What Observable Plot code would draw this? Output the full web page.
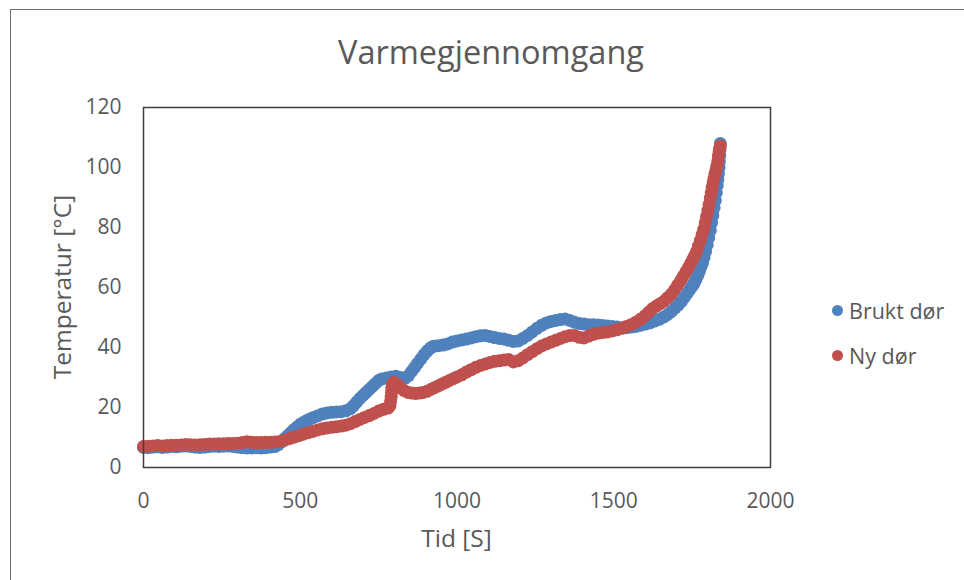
<!DOCTYPE html>
<html>
<head>
<meta charset="utf-8">
<script src="https://cdn.jsdelivr.net/npm/d3@7"></script>
<script src="https://cdn.jsdelivr.net/npm/@observablehq/plot@0.6"></script>
<style>
  html, body { margin: 0; padding: 0; background: #fff; }
  body { width: 964px; height: 580px; overflow: hidden; position: relative; font-family: "Open Sans", sans-serif; color: #595959; }
  #border { position: absolute; left: 10px; top: 9px; width: 2000px; height: 2000px; border: 1.5px solid #6e6e6e; box-sizing: border-box; }
  #chart { position: absolute; left: 0; top: 0; }
  .txt { position: absolute; white-space: nowrap; color: #595959; line-height: 1; }
  #title { left: 0; width: 982px; text-align: center; top: 36px; font-size: 32.5px; }
  #xlabel { left: 143px; width: 627px; text-align: center; top: 526px; font-size: 24.5px; }
  #ylabel { left: 62px; top: 287px; font-size: 24.5px; transform: translate(-50%, -50%) rotate(-90deg); }
  .leg { position: absolute; left: 832px; font-size: 21.5px; display: flex; align-items: center; color: #595959; white-space: nowrap; }
  .leg span.sw { display: inline-block; width: 11px; height: 11px; border-radius: 50%; margin-right: 6px; }
</style>
</head>
<body>
<div id="border"></div>
<div id="chart"></div>
<div id="title" class="txt">Varmegjennomgang</div>
<div id="xlabel" class="txt">Tid [S]</div>
<div id="ylabel" class="txt">Temperatur [°C]</div>
<div id="legend"></div>
<script>
// Series names and colours
const seriesNames = ["Brukt dør", "Ny dør"];
const seriesColors = ["#4F81BD", "#C0504D"];

// Axis ticks
const xTicks = [0, 500, 1000, 1500, 2000];
const yTicks = [0, 20, 40, 60, 80, 100, 120];

// Brukt dør (used door): time [s] and temperature [°C]
const bruktTid = [0,15,30,45,60,75,90,105,120,135,150,165,180,195,210,225,240,255,270,285,300,315,330,345,360,375,390,405,420,430,440,450,460,470,480,490,500,510,520,530,540,555,570,585,600,615,630,645,660,670,680,690,700,710,720,730,740,750,760,775,790,805,820,835,845,855,865,875,885,895,905,915,925,940,955,970,985,1000,1015,1030,1045,1060,1075,1090,1105,1120,1135,1150,1165,1180,1195,1210,1225,1240,1255,1270,1285,1300,1315,1330,1345,1360,1375,1390,1405,1420,1435,1450,1465,1480,1495,1510,1525,1540,1555,1570,1585,1600,1615,1630,1645,1660,1672,1684,1696,1706,1716,1726,1734,1742,1750,1756,1762,1768,1773,1778,1783,1788,1793,1798,1803,1808,1812,1816,1820,1824,1827,1830,1832,1834,1836,1837,1838,1839,1840];
const bruktTemp = [6.7,6.6,6.8,6.9,6.7,6.8,7.0,6.9,7.1,7.2,7.0,6.8,6.7,6.8,7.0,7.1,7.0,7.1,7.2,7.0,6.8,6.6,6.5,6.5,6.6,6.5,6.6,6.8,7.0,7.6,8.5,9.6,10.6,11.6,12.6,13.5,14.4,15.0,15.6,16.1,16.6,17.2,17.8,18.2,18.4,18.5,18.6,18.9,19.6,20.6,21.8,23.0,24.0,25.0,26.0,27.0,28.0,29.0,29.5,29.8,30.2,30.4,30.0,29.8,30.6,32.0,33.4,34.8,36.2,37.6,38.8,39.8,40.4,40.6,40.8,41.2,41.8,42.2,42.5,42.8,43.2,43.6,43.9,44.0,43.7,43.3,43.0,42.8,42.4,42.0,42.2,43.0,44.0,45.2,46.4,47.4,48.2,48.7,49.0,49.3,49.5,49.0,48.4,48.0,47.8,47.6,47.6,47.5,47.3,47.2,47.0,46.8,46.6,46.6,46.8,47.0,47.4,47.8,48.2,48.8,49.4,50.2,51.0,52.0,53.2,54.2,55.4,56.8,58.0,59.2,60.4,61.4,62.6,64.0,65.4,66.8,68.2,70.0,72.0,74.2,76.6,79.0,81.5,84.0,86.5,89.0,91.5,94.0,96.0,98.0,100.0,102.0,104.0,106.0,108.0];

// Ny dør (new door): time [s] and temperature [°C]
const nyTid = [0,15,30,45,60,75,90,105,120,135,150,165,180,195,210,225,240,255,270,285,300,315,330,345,360,375,390,405,420,435,450,465,480,495,510,525,540,555,570,585,600,615,630,645,660,675,690,705,720,735,750,765,780,786,788,790,791,792,794,798,806,814,822,832,844,856,868,880,892,904,916,928,940,952,964,976,988,1000,1015,1030,1045,1060,1075,1090,1105,1120,1135,1150,1165,1180,1195,1210,1225,1240,1255,1270,1285,1300,1315,1330,1345,1360,1375,1390,1405,1420,1435,1450,1465,1480,1495,1510,1525,1540,1555,1570,1585,1600,1612,1624,1636,1648,1660,1672,1684,1694,1704,1714,1722,1730,1738,1745,1752,1758,1764,1770,1776,1782,1787,1792,1796,1800,1804,1808,1811,1814,1817,1820,1823,1826,1829,1832,1834,1836,1838,1840];
const nyTemp = [7.0,7.1,7.2,7.3,7.2,7.3,7.4,7.4,7.5,7.7,7.6,7.5,7.6,7.7,7.8,7.8,7.9,7.9,8.0,8.0,8.1,8.3,8.6,8.4,8.3,8.3,8.4,8.4,8.5,8.7,9.1,9.6,10.1,10.6,11.1,11.6,12.0,12.5,12.9,13.2,13.4,13.6,13.8,14.1,14.6,15.3,16.0,16.7,17.3,18.0,18.8,19.4,19.8,20.5,22.0,23.5,25.0,26.5,27.8,28.4,28.0,27.2,26.4,25.6,25.0,24.8,24.7,24.8,25.0,25.4,26.0,26.6,27.2,27.8,28.4,29.0,29.6,30.2,30.9,31.8,32.6,33.4,34.0,34.5,35.0,35.4,35.6,35.8,36.0,35.2,35.6,36.5,37.6,38.6,39.6,40.5,41.2,41.8,42.4,43.0,43.6,44.0,44.0,43.4,43.2,43.8,44.4,44.8,45.0,45.2,45.5,45.9,46.4,47.0,47.6,48.4,49.4,50.6,51.8,53.0,53.8,54.6,55.4,56.6,57.8,59.2,60.8,62.4,63.8,65.2,66.6,68.0,69.4,70.6,72.0,73.8,75.6,77.6,79.4,81.6,83.6,85.6,87.6,89.8,91.6,93.4,95.0,96.4,97.8,99.2,100.6,102.2,103.8,105.2,106.4,107.2];

const brukt = bruktTid.map((t, i) => ({ tid: t, temp: bruktTemp[i], serie: seriesNames[0] }));
const ny = nyTid.map((t, i) => ({ tid: t, temp: nyTemp[i], serie: seriesNames[1] }));

const chart = Plot.plot({
  width: 964,
  height: 580,
  marginLeft: 143,
  marginRight: 194,
  marginTop: 107,
  marginBottom: 113,
  style: { fontFamily: "'Open Sans', sans-serif", color: "#595959", background: "transparent", overflow: "visible" },
  x: { domain: [0, 2000] },
  y: { domain: [0, 120] },
  marks: [
    Plot.dot(brukt, { x: "tid", y: "temp", r: 6.5, fill: seriesColors[0], stroke: "none" }),
    Plot.dot(ny, { x: "tid", y: "temp", r: 6.5, fill: seriesColors[1], stroke: "none" }),
    Plot.frame({ stroke: "#3f3f3f", strokeWidth: 1.5 }),
    Plot.axisX({ ticks: xTicks, tickFormat: d => String(d), tickSize: 0, tickPadding: 26, fontSize: 21, label: null, fill: "#595959" }),
    Plot.axisY({ ticks: yTicks, tickFormat: d => String(d), tickSize: 0, tickPadding: 22, fontSize: 21, label: null, fill: "#595959" })
  ]
});
document.getElementById("chart").appendChild(chart);

// Legend
const legend = document.getElementById("legend");
const legendTops = [296, 341];
seriesNames.forEach((name, i) => {
  const item = document.createElement("div");
  item.className = "leg";
  item.style.top = legendTops[i] + "px";
  item.innerHTML = `<span class="sw" style="background:${seriesColors[i]}"></span><span>${name}</span>`;
  legend.appendChild(item);
});
</script>
</body>
</html>
